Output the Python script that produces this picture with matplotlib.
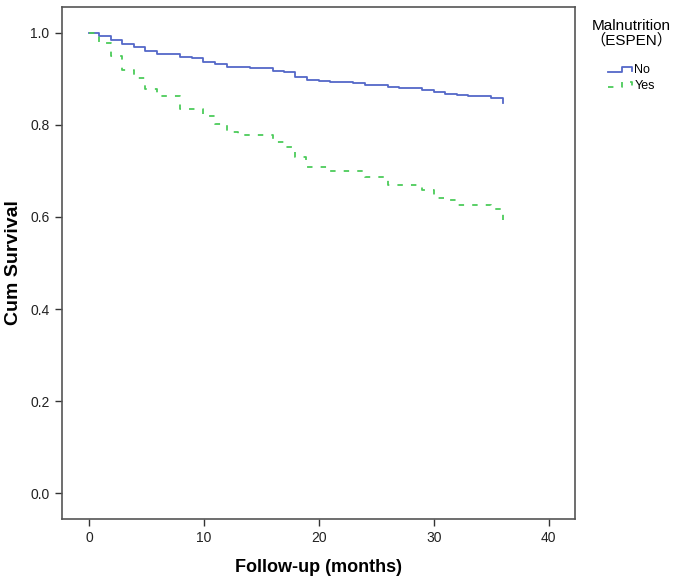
import matplotlib
matplotlib.use("Agg")
import matplotlib.pyplot as plt
from matplotlib.legend_handler import HandlerLine2D
from matplotlib.lines import Line2D

plt.rcParams['font.family'] = ['Liberation Sans', 'Noto Sans CJK SC', 'DejaVu Sans']

no_t = [0, 0.9, 1.9, 2.9, 3.9, 4.9, 5.9, 7.9, 9.0, 9.9, 11.0, 12.0, 13.0, 14.0, 16.0, 17.0,
        17.9, 19.0, 20.0, 21.0, 23.0, 24.0, 26.0, 27.0, 29.0, 30.0, 31.0, 32.0, 33.0, 35.0, 36.0]
no_s = [1.0, 0.994, 0.985, 0.975, 0.969, 0.961, 0.955, 0.948, 0.946, 0.938, 0.933, 0.927, 0.925,
        0.923, 0.918, 0.915, 0.905, 0.897, 0.896, 0.893, 0.891, 0.888, 0.883, 0.880, 0.877, 0.871,
        0.868, 0.865, 0.862, 0.859, 0.848]

yes_t = [0, 0.9, 1.9, 2.9, 3.9, 4.9, 5.9, 7.9, 9.9, 11.0, 12.0, 13.0, 16.0, 17.0, 17.9, 18.9,
         21.0, 24.0, 26.0, 29.0, 30.0, 31.0, 32.0, 35.0, 36.0]
yes_s = [1.0, 0.978, 0.951, 0.920, 0.903, 0.878, 0.862, 0.835, 0.819, 0.802, 0.784, 0.779, 0.764,
         0.753, 0.730, 0.709, 0.699, 0.687, 0.670, 0.658, 0.642, 0.638, 0.626, 0.617, 0.593]

x_ticks = [0, 10, 20, 30, 40]
y_ticks = [0.0, 0.2, 0.4, 0.6, 0.8, 1.0]


class StepHandler(HandlerLine2D):
    def create_artists(self, legend, orig_handle, xdescent, ydescent, width, height,
                       fontsize, trans):
        x0 = -xdescent
        y_lo = -ydescent + 0.2 * height
        y_hi = -ydescent + 0.75 * height
        xs = [x0, x0 + 0.55 * width, x0 + 0.55 * width, x0 + 0.92 * width,
              x0 + 0.92 * width]
        ys = [y_lo, y_lo, y_hi, y_hi, y_lo + 0.1 * height]
        ln = Line2D(xs, ys)
        self.update_prop(ln, orig_handle, legend)
        ln.set_transform(trans)
        return [ln]


fig = plt.figure(figsize=(6.75, 5.82), dpi=100)
ax = fig.add_axes([62/675, 63/582, 513/675, 512/582])

l1, = ax.plot(no_t, no_s, drawstyle='steps-post', color='#5468C8', lw=1.3, label='No')
l2, = ax.plot(yes_t, yes_s, drawstyle='steps-post', color='#4CCB5A', lw=1.3,
              dashes=(3, 4.5), label='Yes')

ax.set_xlim(-2.35, 42.3)
ax.set_ylim(-0.0565, 1.0565)
ax.set_xticks(x_ticks)
ax.set_xticklabels([str(v) for v in x_ticks])
ax.set_yticks(y_ticks)
ax.set_yticklabels([f"{v:.1f}" for v in y_ticks])
ax.tick_params(direction='out', length=5, width=1, color='#333333', labelsize=10,
               labelcolor='#222222', pad=4)
for s in ax.spines.values():
    s.set_color('#555555')
    s.set_linewidth(1.2)

ax.set_xlabel('Follow-up (months)', fontsize=13, fontweight='bold', va='center')
ax.xaxis.set_label_coords(0.5, -48/512)
ax.set_ylabel('Cum Survival', fontsize=14, fontweight='bold', va='center')
ax.yaxis.set_label_coords(-48/513, 0.5)

leg = ax.legend(handles=[l1, l2], title='Malnutrition\n（ESPEN）', loc='upper left',
                bbox_to_anchor=(1.015, 0.991), frameon=False, fontsize=9,
                title_fontsize=11, handlelength=2.1, handletextpad=0.05,
                labelspacing=0.28, borderaxespad=0.2,
                handler_map={Line2D: StepHandler()})
leg._legend_box.align = 'center'
leg._legend_box.sep = 12.5
leg.get_title().set_multialignment('center')
leg.get_title().set_linespacing(0.95)

fig.savefig('out.png', dpi=100)
